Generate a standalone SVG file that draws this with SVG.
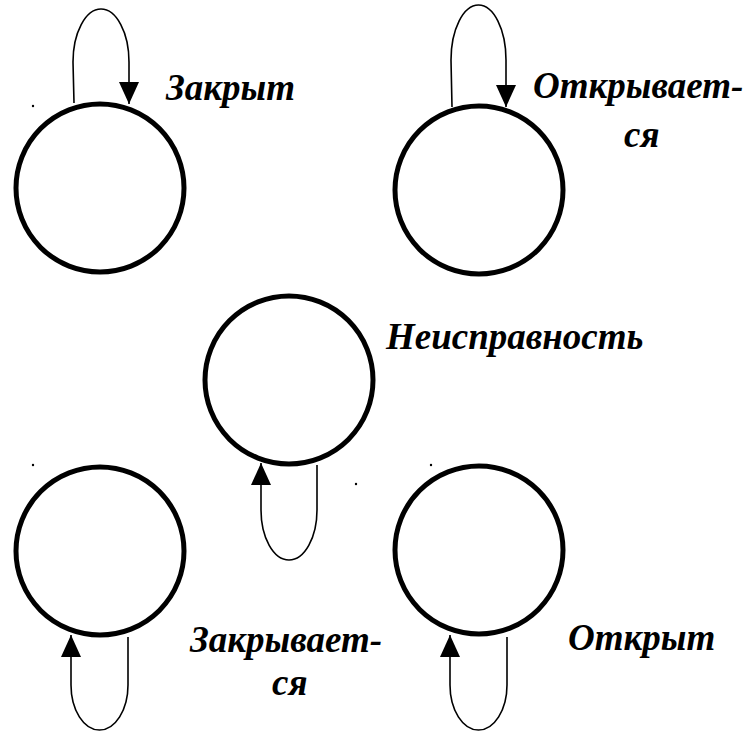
<svg xmlns="http://www.w3.org/2000/svg" width="745" height="731" viewBox="0 0 745 731">
<style>
.node{fill:none;stroke:#000;stroke-width:5}
.loop{fill:none;stroke:#000;stroke-width:1.6}
.dot{fill:#000}
.lbl{font-family:"Liberation Serif","DejaVu Serif",serif;font-weight:bold;font-style:italic;font-size:37px;fill:#000}
</style>
<defs>
  <marker id="arrow" viewBox="0 0 22 20" refX="22" refY="10" markerWidth="22" markerHeight="20" markerUnits="userSpaceOnUse" orient="auto">
    <polygon points="0,0 22,10 0,20" fill="#000"/>
  </marker>
</defs>
<rect width="745" height="731" fill="#fff"/>
<g id="connectors">
  <path class="loop" d="M74,103 L73,62 A28,53 0 0 1 129,62 L129,104" marker-end="url(#arrow)"/>
  <path class="loop" d="M452,107 L451,60 A27.5,55 0 0 1 506,60 L506,107" marker-end="url(#arrow)"/>
  <path class="loop" d="M317,465 L317,510 A28,50 0 0 1 261,510 L261,463" marker-end="url(#arrow)"/>
  <path class="loop" d="M128,637 L128,685 A28.5,45 0 0 1 71,685 L71,635" marker-end="url(#arrow)"/>
  <path class="loop" d="M507,637 L507,685 A28.5,45 0 0 1 450,685 L450,635" marker-end="url(#arrow)"/>
</g>
<g id="n-closed">
  <circle class="node" cx="100" cy="188" r="84"/>
  <text class="lbl" x="166" y="100">Закрыт</text>
</g>
<g id="n-opening">
  <circle class="node" cx="479" cy="190" r="84"/>
  <text class="lbl" x="533" y="98">Открывает-</text>
  <text class="lbl" x="624" y="147">ся</text>
</g>
<g id="n-fault">
  <circle class="node" cx="289" cy="380" r="84"/>
  <text class="lbl" x="386" y="349">Неисправность</text>
</g>
<g id="n-closing">
  <circle class="node" cx="100" cy="551" r="84"/>
  <text class="lbl" x="190" y="652">Закрывает-</text>
  <text class="lbl" x="272" y="695">ся</text>
</g>
<g id="n-open">
  <circle class="node" cx="479" cy="550" r="84"/>
  <text class="lbl" x="568" y="650">Открыт</text>
</g>
<g id="dots">
  <circle class="dot" cx="33" cy="106" r="1.2"/>
  <circle class="dot" cx="33" cy="465" r="1.2"/>
  <circle class="dot" cx="356" cy="484" r="1.2"/>
  <circle class="dot" cx="431" cy="465" r="1.2"/>
</g>
</svg>
